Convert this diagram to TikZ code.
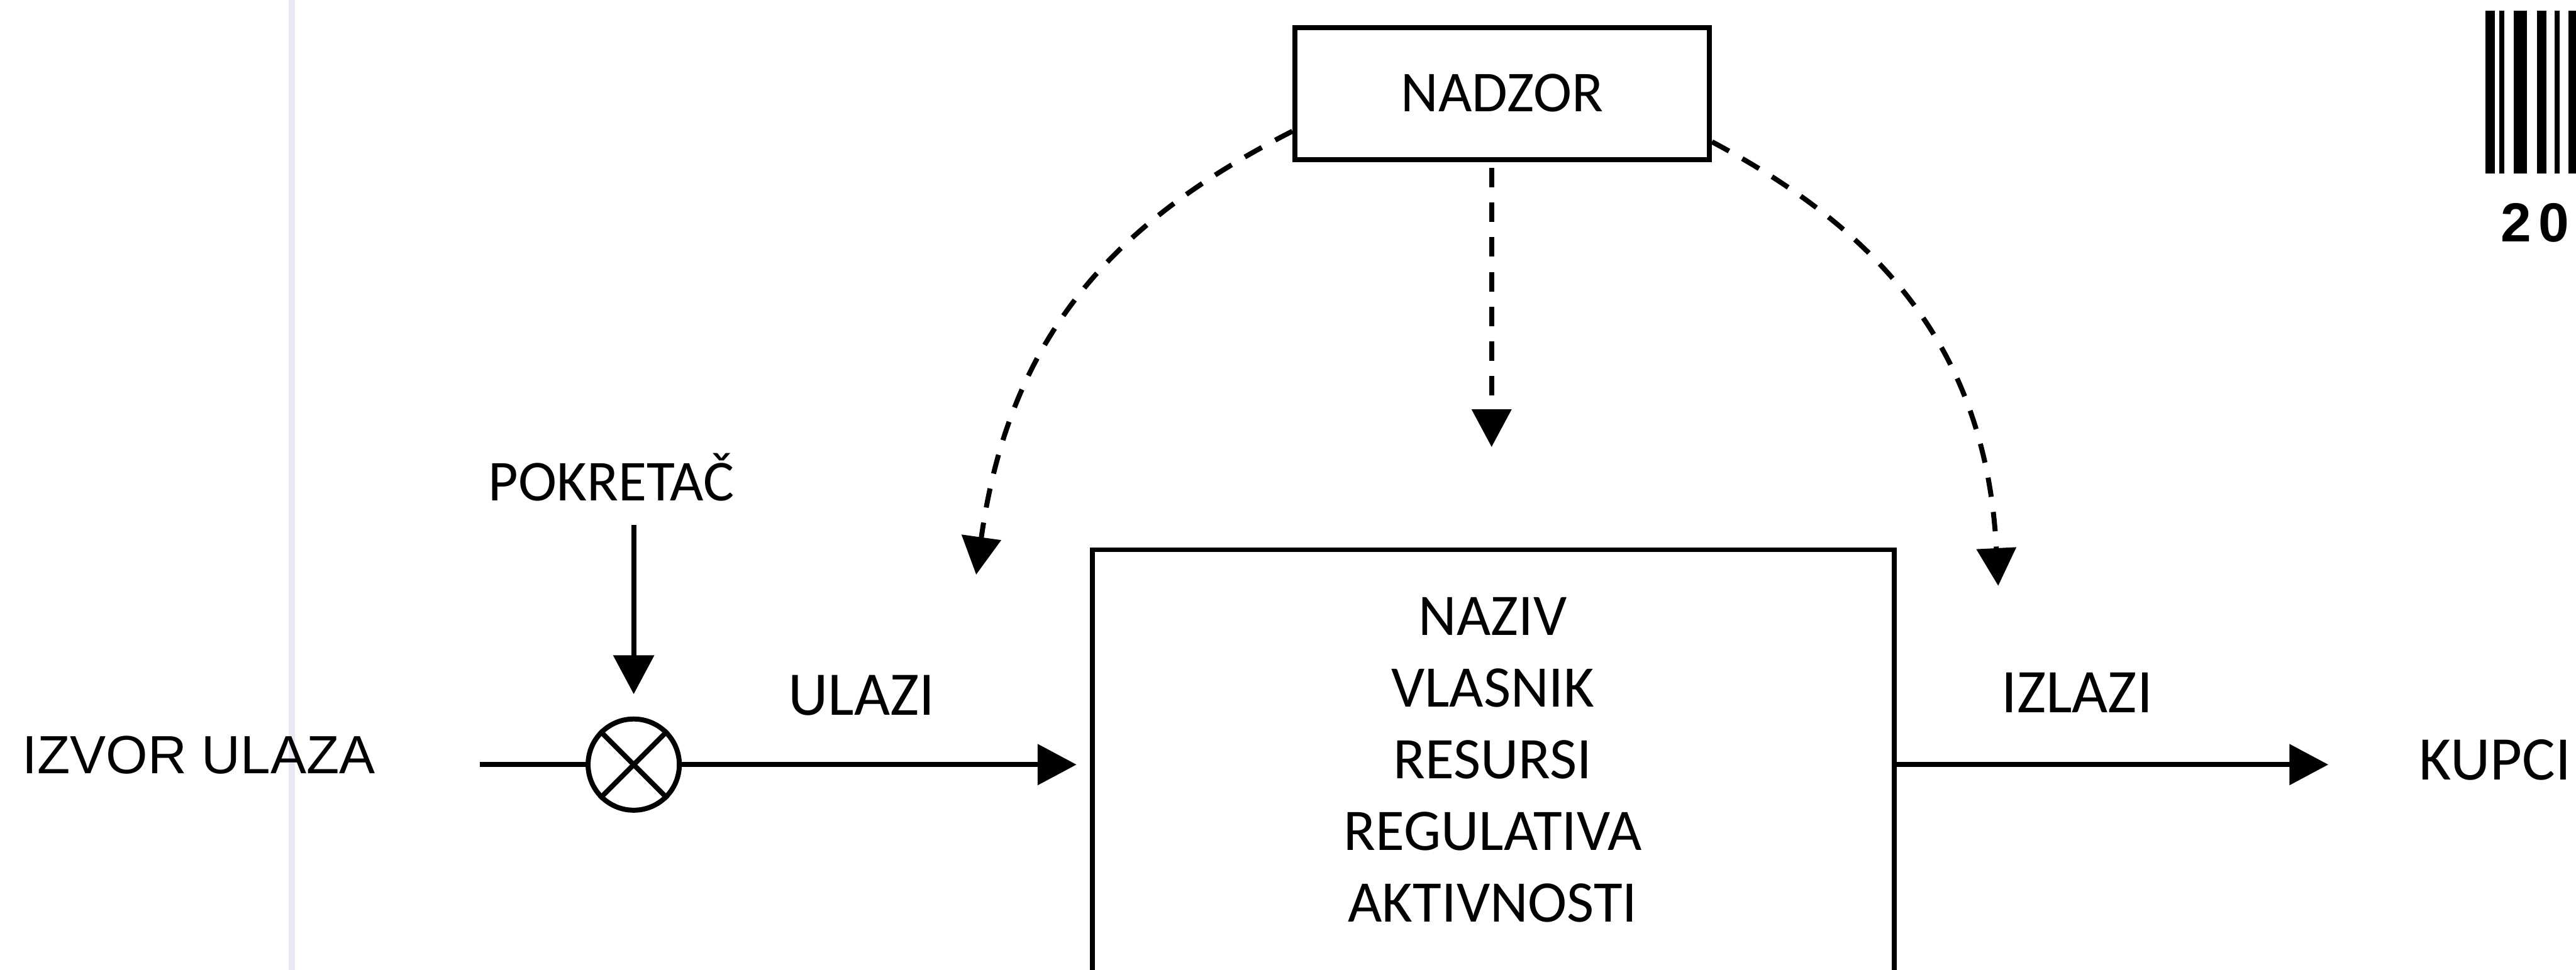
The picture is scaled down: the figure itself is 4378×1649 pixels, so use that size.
\documentclass[tikz,border=0pt]{standalone}
\usepackage{fontspec}
\newfontfamily\carl{Carlito}
\newfontfamily\libsans{Liberation Sans}
\usetikzlibrary{arrows.meta}
\definecolor{faintline}{RGB}{232,232,242}
\tikzset{
  lw/.style={line width=0.085cm},
  flow/.style={lw, -{Triangle[length=0.66cm,width=0.68cm]}},
  ctrl/.style={lw, dash pattern=on 0.33cm off 0.26cm, -{Triangle[length=0.64cm,width=0.66cm]}},
  lbl/.style={inner sep=0pt, text depth=0pt},
  carlA/.style={lbl, text height=18.0pt, font=\carl\fontsize{28.5}{34}\selectfont},
  carlB/.style={lbl, text height=19.0pt, font=\carl\fontsize{30}{36}\selectfont},
}
\begin{document}
\begin{tikzpicture}[x=0.01cm, y=-0.01cm]
\useasboundingbox (0,0) rectangle (4378,1649);
\clip (0,0) rectangle (4378,1649);
\fill[white] (0,0) rectangle (4378,1649);
% faint scan line
\draw[line width=0.1cm, faintline] (496,0) -- (496,1649);

% boxes
\node[draw, lw, minimum width=7.04cm, minimum height=2.24cm, inner sep=0pt,
      text height=17.7pt, text depth=0pt, font=\carl\fontsize{28}{34}\selectfont]
      (nadzor) at (2553,159) {NADZOR};
\node[draw, line width=0.08cm, minimum width=13.62cm, minimum height=8.25cm] (proc) at (2538,1347.5) {};

% box text
\node[carlA] (naziv) at (2537,1048) {NAZIV};
\node[carlA] (vlasnik) at (2537,1170) {VLASNIK};
\node[carlA] (resursi) at (2537,1292) {RESURSI};
\node[carlA] (regul) at (2537,1414) {REGULATIVA};
\node[carlA] (aktiv) at (2537,1536) {AKTIVNOSTI};

% labels
\node[lbl, text height=17.7pt, font=\carl\fontsize{28}{34}\selectfont] (pokretac) at (1039,820) {POKRETAČ};
\node[carlB] (ulazi) at (1464,1182) {ULAZI};
\node[carlB] (izlazi) at (3530,1178) {IZLAZI};
\node[carlB] (kupci) at (4240,1292) {KUPCI};
\node[lbl, text height=18.6pt, font=\libsans\fontsize{26}{31}\selectfont] (izvor) at (338,1283) {IZVOR ULAZA};

% mixing junction
\node[circle, draw, lw, minimum size=1.55cm, inner sep=0pt] (mix) at (1077,1300) {};
\draw[lw] (mix.north west) -- (mix.south east) (mix.north east) -- (mix.south west);

% flow
\coordinate (src) at (815,1300);
\draw[lw] (src) -- (mix.west);
\draw[flow, shorten >=0.23cm] (mix.east) -- (mix.east -| proc.west);
\draw[flow, shorten >=1.53cm] (proc.east |- mix.east) -- (kupci.west |- mix.east);
\draw[flow, shorten <=0.41cm, shorten >=0.38cm] (pokretac.south -| mix.north) -- (mix.north);

% control (dashed)
\coordinate (vtip) at (2535,760);
\coordinate (ltip) at (1659,977);
\coordinate (rtip) at (3396,996);
\draw[ctrl, shorten <=0.1cm] (nadzor.south -| vtip) -- (vtip);
\draw[ctrl] ([yshift=-0.64cm]nadzor.west) .. controls +(-294,150) and +(58,-416) .. (ltip);
\draw[ctrl] ([yshift=-0.82cm]nadzor.east) .. controls +(265,141) and +(-21,-419) .. (rtip);

% barcode fragment
\fill (4224,18) rectangle (4240,295);
\fill (4248,18) rectangle (4256,295);
\fill (4272,18) rectangle (4295,295);
\fill (4312,18) rectangle (4328,295);
\fill (4342,18) rectangle (4350,295);
\fill (4365,18) rectangle (4390,295);
\node[lbl, anchor=west, text height=19pt, font=\libsans\bfseries\fontsize{26.6}{30}\selectfont]
      (year) at (4249,378) {2\hspace{3.7pt}0\hspace{3.7pt}2};
\end{tikzpicture}
\end{document}
